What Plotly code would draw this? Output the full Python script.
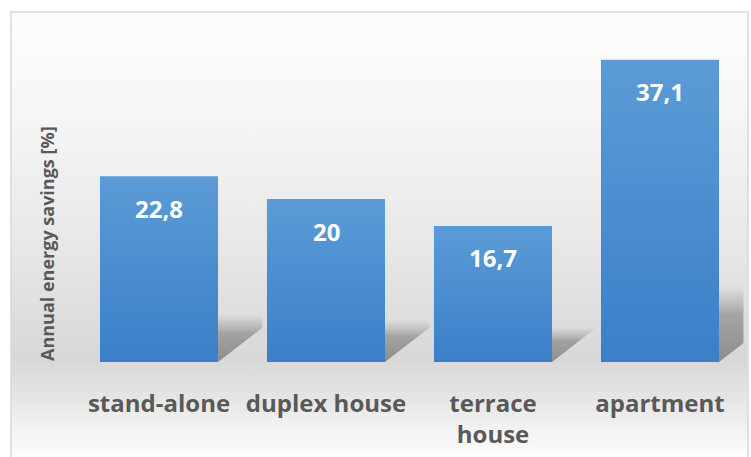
import plotly.graph_objects as go

# Data
categories = ["stand-alone", "duplex house", "terrace<br>house", "apartment"]
savings = [22.8, 20, 16.7, 37.1]
value_labels = [str(v).replace(".", ",") for v in savings]

# Figure geometry (pixels)
W, H = 751, 457
PLOT_L, PLOT_R, PLOT_T, PLOT_B = 75.5, 743.5, 36, 362
Y_MAX = 40
BAR_W = 0.707

GRAY_TEXT = "#595959"
FONT = "Open Sans"

FRAME_L, FRAME_R, FRAME_T = 11, 748, 12

fig = go.Figure()

# Backdrop: a vertical grey gradient on a full-figure pixel axis pair (x, y)
stops = [(12, 253), (100, 247), (200, 237), (300, 224), (360, 216),
         (400, 230), (430, 243), (457, 252)]
bg_scale = [[(H - py) / (H - FRAME_T), f"rgb({c},{c},{c})"]
            for py, c in reversed(stops)]
bg_scale = [[round(max(0.0, min(1.0, p)), 4), c] for p, c in bg_scale]
fig.add_trace(go.Scatter(
    x=[FRAME_L, FRAME_R, FRAME_R, FRAME_L, FRAME_L],
    y=[0, 0, H - FRAME_T, H - FRAME_T, 0],
    mode="lines", line=dict(width=0), fill="toself",
    fillgradient=dict(type="vertical", start=0, stop=H - FRAME_T,
                      colorscale=bg_scale),
    xaxis="x", yaxis="y", hoverinfo="skip", showlegend=False,
))

# Soft floor shadows cast to the right of each bar
for i, v in enumerate(savings):
    xr = i + BAR_W / 2
    dx = 0.265
    hs = 0.26 * v
    rise = 4.2
    fig.add_trace(go.Scatter(
        x=[xr, xr, xr + dx, xr + dx, xr],
        y=[0, hs, hs, rise, 0],
        mode="lines", line=dict(width=0), fill="toself",
        fillgradient=dict(
            type="vertical", start=0, stop=hs,
            colorscale=[[0, "rgba(115,115,115,0.75)"],
                        [0.6, "rgba(125,125,125,0.6)"],
                        [0.85, "rgba(150,150,150,0.25)"],
                        [1, "rgba(190,190,190,0)"]],
        ),
        xaxis="x2", yaxis="y2", hoverinfo="skip", showlegend=False,
    ))

# Bars with a vertical blue gradient
for i, v in enumerate(savings):
    x0, x1 = i - BAR_W / 2, i + BAR_W / 2
    fig.add_trace(go.Scatter(
        x=[x0, x1, x1, x0, x0],
        y=[0, 0, v, v, 0],
        mode="lines", line=dict(width=0), fill="toself",
        fillgradient=dict(
            type="vertical", start=0, stop=v,
            colorscale=[[0, "#3a7fc9"], [1, "#5b9bd6"]],
        ),
        name=categories[i].replace("<br>", " "),
        hovertemplate="%{fullData.name}: " + value_labels[i] + "<extra></extra>",
        xaxis="x2", yaxis="y2", showlegend=False,
    ))

# Value labels inside the bars
for i, (v, t) in enumerate(zip(savings, value_labels)):
    fig.add_annotation(
        x=i, y=v, xref="x2", yref="y2", text=t, showarrow=False,
        yanchor="middle", yshift=-32,
        font=dict(family=FONT, size=24, color="white", weight="bold"),
    )

fig.add_annotation(
    x=47 / W, y=(H - 244) / H, xref="paper", yref="paper",
    text="Annual energy savings [%]", textangle=-90, showarrow=False,
    xanchor="center", yanchor="middle",
    font=dict(family=FONT, size=18, color=GRAY_TEXT, weight="bold"),
)

fig.update_layout(
    width=W, height=H,
    margin=dict(l=0, r=0, t=0, b=0),
    paper_bgcolor="white", plot_bgcolor="rgba(0,0,0,0)",
    shapes=[dict(
        type="rect", xref="paper", yref="paper", layer="above",
        x0=FRAME_L / W, x1=FRAME_R / W, y0=-0.1, y1=(H - FRAME_T) / H,
        line=dict(color="#d9d9d9", width=1.5), fillcolor="rgba(0,0,0,0)",
    )],
    showlegend=False,
    xaxis=dict(domain=[0, 1], range=[0, W], visible=False, fixedrange=True),
    yaxis=dict(domain=[0, 1], range=[0, H], visible=False, fixedrange=True),
    xaxis2=dict(
        domain=[PLOT_L / W, PLOT_R / W], anchor="y2",
        range=[-0.5, 3.5], tickvals=list(range(len(categories))),
        ticktext=categories, showgrid=False, zeroline=False, showline=False,
        ticks="", ticklabelstandoff=25, fixedrange=True,
        tickfont=dict(family=FONT, size=24, color=GRAY_TEXT, weight="bold"),
    ),
    yaxis2=dict(
        domain=[(H - PLOT_B) / H, (H - PLOT_T) / H], anchor="x2",
        range=[0, Y_MAX], visible=False, showgrid=False,
        zeroline=False, fixedrange=True,
    ),
)

fig.write_html("out.html")
